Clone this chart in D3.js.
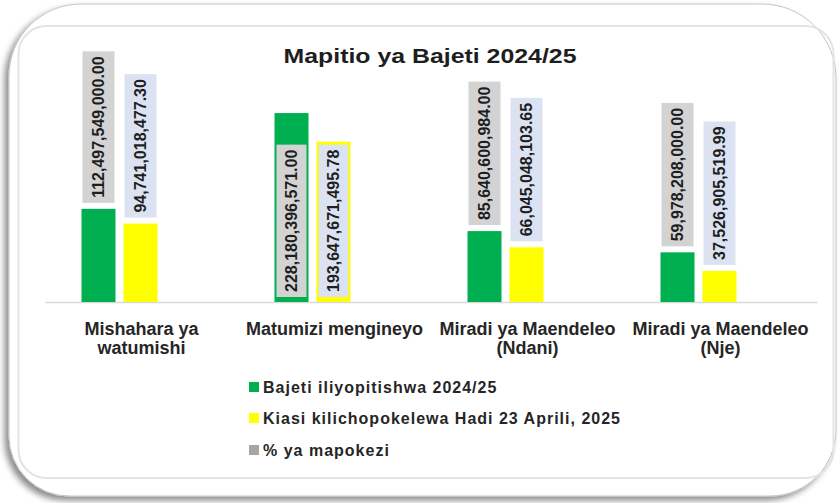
<!DOCTYPE html>
<html>
<head>
<meta charset="utf-8">
<script src="https://cdn.jsdelivr.net/npm/d3@7"></script>
<style>
  html, body { margin: 0; padding: 0; background: #ffffff; }
  svg { display: block; }
  text { font-family: "Liberation Sans", Arial, sans-serif; font-weight: bold; }
</style>
</head>
<body>
<div id="chart"></div>
<script>
// ---------------- data ----------------
const title = "Mapitio ya Bajeti 2024/25";
const categories = ["Mishahara ya watumishi", "Matumizi mengineyo", "Miradi ya Maendeleo (Ndani)", "Miradi ya Maendeleo (Nje)"];
const categoryLines = [["Mishahara ya", "watumishi"], ["Matumizi mengineyo"], ["Miradi ya Maendeleo", "(Ndani)"], ["Miradi ya Maendeleo", "(Nje)"]];
const bajeti = [112497549000.00, 228180396571.00, 85640600984.00, 59978208000.00];
const kiasi = [94741018477.30, 193647671495.78, 66045048103.65, 37526905519.99];
const seriesNames = ["Bajeti iliyopitishwa 2024/25", "Kiasi kilichopokelewa Hadi 23 Aprili, 2025", "% ya mapokezi"];
const seriesColors = ["#00b050", "#ffff00", "#a6a6a6"];
const labelFills = ["#d3d3d3", "#dbe3f2"];
const yMax = 250e9;

// ---------------- layout ----------------
const W = 840, H = 503;
const svg = d3.select("#chart").append("svg").attr("width", W).attr("height", H);

const defs = svg.append("defs");
const f = defs.append("filter").attr("id", "cardShadow")
  .attr("x", "-5%").attr("y", "-5%").attr("width", "110%").attr("height", "112%");
f.append("feDropShadow").attr("dx", -4).attr("dy", 4).attr("stdDeviation", 3)
  .attr("flood-color", "#000").attr("flood-opacity", 0.45);

function cardPath(x0, y0, x1, y1, r) {
  const [tl, tr, br, bl] = r;
  return `M${x0 + tl},${y0} H${x1 - tr} A${tr},${tr} 0 0 1 ${x1},${y0 + tr} V${y1 - br} ` +
    `A${br},${br} 0 0 1 ${x1 - br},${y1} H${x0 + bl} A${bl},${bl} 0 0 1 ${x0},${y1 - bl} ` +
    `V${y0 + tl} A${tl},${tl} 0 0 1 ${x0 + tl},${y0} Z`;
}

// card
svg.append("path")
  .attr("d", cardPath(9, 4, 836, 496, [72, 74, 66, 60]))
  .attr("fill", "#ffffff")
  .attr("stroke", "#c4c4c4").attr("stroke-width", 1)
  .attr("filter", "url(#cardShadow)");

// inner chart-area border
svg.append("rect")
  .attr("x", 18.5).attr("y", 26).attr("width", 815).attr("height", 452)
  .attr("rx", 28).attr("ry", 28)
  .attr("fill", "none").attr("stroke", "#e4e4e4").attr("stroke-width", 2);

// title
svg.append("text")
  .attr("x", 430).attr("y", 63)
  .attr("text-anchor", "middle")
  .attr("font-size", 21)
  .attr("textLength", 293)
  .attr("lengthAdjust", "spacingAndGlyphs")
  .attr("fill", "#1e1e1e")
  .text(title);

// scales
const x = d3.scaleBand().domain(categories).range([45, 817]).paddingInner(0).paddingOuter(0);
const y = d3.scaleLinear().domain([0, yMax]).range([302, 95]);
const groupShift = -22;   // bar cluster offset inside each band
const barW = 34, barOff = 21;

// axis baseline
const axis = svg.append("g").attr("transform", `translate(0,${y(0)})`)
  .call(d3.axisBottom(x).tickSize(0).tickFormat(""));
axis.select(".domain").attr("stroke", "#d9d9d9").attr("stroke-width", 1.5);

// category labels
categories.forEach((c, i) => {
  const t = svg.append("text")
    .attr("x", x(c) + x.bandwidth() / 2)
    .attr("y", 335)
    .attr("text-anchor", "middle")
    .attr("font-size", 18)
    .attr("fill", "#262626");
  categoryLines[i].forEach((ln, j) => {
    t.append("tspan").attr("x", x(c) + x.bandwidth() / 2).attr("dy", j === 0 ? 0 : 19).text(ln);
  });
});

// bars
const series = [bajeti, kiasi];
const fmt = d3.format(",.2f");
const barsG = svg.append("g");
const labelsG = svg.append("g");

series.forEach((vals, s) => {
  vals.forEach((v, i) => {
    const c = categories[i];
    const cx = x(c) + x.bandwidth() / 2 + groupShift + (s === 0 ? -barOff : barOff);
    const top = y(v);
    barsG.append("rect")
      .attr("x", cx - barW / 2).attr("y", top)
      .attr("width", barW).attr("height", y(0) - top)
      .attr("fill", seriesColors[s]);

    // data label
    const lg = labelsG.append("g");
    const box = lg.append("rect").attr("fill", labelFills[s]);
    const txt = lg.append("text")
      .attr("text-anchor", "middle")
      .attr("dominant-baseline", "central")
      .attr("font-size", 16)
      .attr("fill", "#1e1e1e")
      .text(fmt(v));
    const len = txt.node().getComputedTextLength();
    const boxH = len + 10;
    let boxW, boxBottom;
    if (top - 6 - boxH < 30) {
      // inside base
      boxW = barW - 4;
      boxBottom = y(0) - 5;
    } else {
      boxW = 32;
      boxBottom = top - 6;
    }
    const boxTop = boxBottom - boxH;
    box.attr("x", cx - boxW / 2).attr("y", boxTop).attr("width", boxW).attr("height", boxH);
    const cy = boxTop + boxH / 2;
    txt.attr("transform", `translate(${cx},${cy}) rotate(-90)`);
  });
});

// legend
const legendRows = [387, 418, 450];
seriesNames.forEach((n, i) => {
  svg.append("rect")
    .attr("x", 249).attr("y", legendRows[i] - 5)
    .attr("width", 10).attr("height", 10)
    .attr("fill", seriesColors[i]);
  svg.append("text")
    .attr("x", 263).attr("y", legendRows[i])
    .attr("dominant-baseline", "central")
    .attr("font-size", 16)
    .attr("letter-spacing", "1px")
    .attr("fill", "#262626")
    .text(n);
});
</script>
</body>
</html>
